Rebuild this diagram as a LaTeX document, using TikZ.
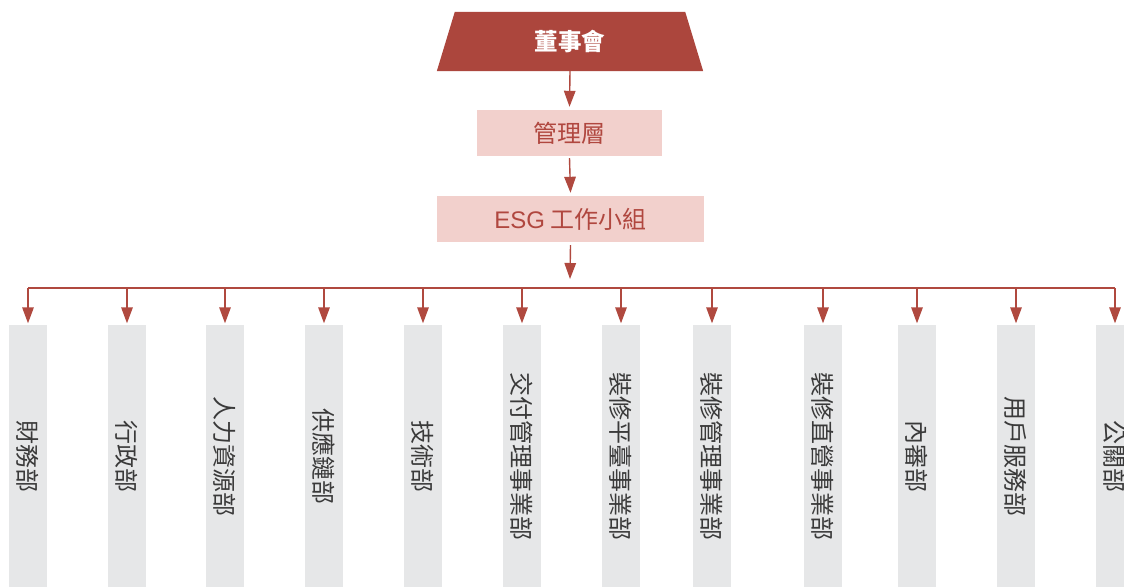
\documentclass[tikz,border=0pt]{standalone}
\usepackage{fontspec}
\setmainfont{Noto Sans CJK TC}
\newfontfamily\latinsans{Liberation Sans}
\usetikzlibrary{arrows.meta}
\definecolor{boardred}{HTML}{AC463D}
\definecolor{linered}{HTML}{B0493F}
\definecolor{pinkfill}{HTML}{F2D0CC}
\definecolor{pinktext}{HTML}{B0473F}
\definecolor{colgray}{HTML}{E6E7E8}
\definecolor{coltext}{HTML}{3A3A3A}
\tikzset{
  conn/.style={draw=linered, line width=1.4pt, -{Triangle[length=16pt,width=11.5pt]}},
  busline/.style={draw=linered, line width=1.4pt},
  pinkbox/.style={fill=pinkfill, inner sep=0pt, font=\fontsize{24}{26}\selectfont, text=pinktext},
  colbox/.style={fill=colgray, minimum width=38pt, minimum height=262pt, inner sep=0pt},
  coltxt/.style={rotate=-90, font=\fontsize{24}{26}\selectfont, text=coltext, inner sep=0pt},
}
\begin{document}
\begin{tikzpicture}[x=1pt,y=-1pt]
\useasboundingbox (0,0) rectangle (1124,587);
\fill[white] (0,0) rectangle (1124,587);
% board
\node[minimum width=266pt, minimum height=59pt, inner sep=0pt] (board) at (570,41.5) {};
\fill[boardred] (board.south west) -- (board.south east) -- ([xshift=-18pt]board.north east) -- ([xshift=18pt]board.north west) -- cycle;
\node[text=white, font=\fontsize{23.5}{26}\selectfont\bfseries] (boardtxt) at (board.center) {董事會};
% management
\node[pinkbox, minimum width=185pt, minimum height=46pt] (mgmt) at (569.5,133) {管理層};
\node[pinkbox, minimum width=267pt, minimum height=46pt] (esg) at (570.5,219) {{\latinsans ESG} 工作小組};
\coordinate (esgtip) at (570,279);
\coordinate (bus) at (570,288);
\draw[conn] (board.south) -- ([yshift=3pt]mgmt.north);
\draw[conn] ([yshift=-2pt]mgmt.south) -- ([yshift=3pt]esg.north);
\draw[conn] ([yshift=-3pt]esg.south) -- (esgtip);
% columns
\foreach \n/\x/\t in {c1/28/財務部, c2/127/行政部, c3/225/人力資源部, c4/324/供應鏈部, c5/423/技術部, c6/522/交付管理事業部, c7/621/裝修平臺事業部, c8/712/裝修管理事業部, c9/823/裝修直營事業部, c10/917/內審部, c11/1016/用戶服務部, c12/1115/公關部}{
  \node[colbox] (\n) at (\x,456) {};
  \node[coltxt] (\n t) at (\n.center) {\t};
}
\draw[busline] (c1.north |- bus) -- (c12.north |- bus);
\foreach \n in {c1,c2,c3,c4,c5,c6,c7,c8,c9,c10,c11,c12}{
  \draw[conn, shorten >=1.5pt] (\n.north |- bus) -- (\n.north);
}
\end{tikzpicture}
\end{document}
